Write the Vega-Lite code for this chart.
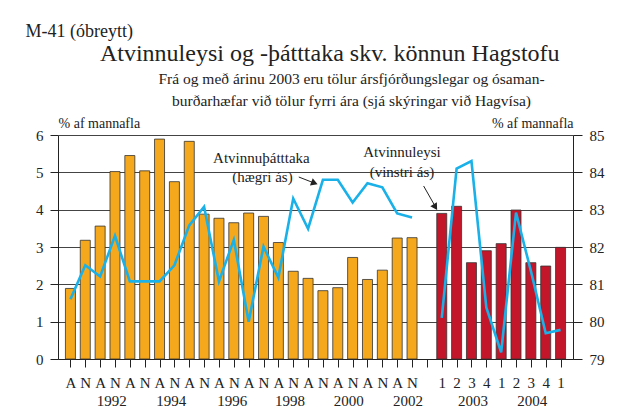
{
  "$schema": "https://vega.github.io/schema/vega-lite/v6.json",
  "background": "white",
  "padding": {"left": 25, "top": 22, "right": 5, "bottom": 5},
  "config": {
    "font": "Liberation Serif",
    "view": {"stroke": null},
    "axis": {"labelFont": "Liberation Serif", "titleFont": "Liberation Serif", "labelColor": "#222", "titleColor": "#222", "domainColor": "#222", "tickColor": "#222", "labelFontSize": 15, "titleFontSize": 14, "titleFontWeight": "normal"}
  },
  "title": {"text": "M-41  (óbreytt)", "anchor": "start", "fontSize": 18, "fontWeight": "normal", "color": "#222", "font": "Liberation Serif", "offset": 1, "dx": -10},
  "datasets": {
    "series": [
      {"slot": 0, "period": "ar", "unemp": 1.89, "lfp": 80.6},
      {"slot": 1, "period": "ar", "unemp": 3.18, "lfp": 81.51},
      {"slot": 2, "period": "ar", "unemp": 3.56, "lfp": 81.21},
      {"slot": 3, "period": "ar", "unemp": 5.02, "lfp": 82.3},
      {"slot": 4, "period": "ar", "unemp": 5.45, "lfp": 81.08},
      {"slot": 5, "period": "ar", "unemp": 5.04, "lfp": 81.08},
      {"slot": 6, "period": "ar", "unemp": 5.89, "lfp": 81.08},
      {"slot": 7, "period": "ar", "unemp": 4.75, "lfp": 81.51},
      {"slot": 8, "period": "ar", "unemp": 5.83, "lfp": 82.58},
      {"slot": 9, "period": "ar", "unemp": 3.88, "lfp": 83.08},
      {"slot": 10, "period": "ar", "unemp": 3.77, "lfp": 81.08},
      {"slot": 11, "period": "ar", "unemp": 3.65, "lfp": 82.19},
      {"slot": 12, "period": "ar", "unemp": 3.91, "lfp": 80.0},
      {"slot": 13, "period": "ar", "unemp": 3.82, "lfp": 82.01},
      {"slot": 14, "period": "ar", "unemp": 3.12, "lfp": 81.18},
      {"slot": 15, "period": "ar", "unemp": 2.35, "lfp": 83.3},
      {"slot": 16, "period": "ar", "unemp": 2.16, "lfp": 82.49},
      {"slot": 17, "period": "ar", "unemp": 1.83, "lfp": 83.8},
      {"slot": 18, "period": "ar", "unemp": 1.91, "lfp": 83.8},
      {"slot": 19, "period": "ar", "unemp": 2.72, "lfp": 83.19},
      {"slot": 20, "period": "ar", "unemp": 2.13, "lfp": 83.71},
      {"slot": 21, "period": "ar", "unemp": 2.38, "lfp": 83.6},
      {"slot": 22, "period": "ar", "unemp": 3.24, "lfp": 82.9},
      {"slot": 23, "period": "ar", "unemp": 3.25, "lfp": 82.79},
      {"slot": 25, "period": "fj", "unemp": 3.9, "lfp": 80.1},
      {"slot": 26, "period": "fj", "unemp": 4.09, "lfp": 84.1},
      {"slot": 27, "period": "fj", "unemp": 2.58, "lfp": 84.3},
      {"slot": 28, "period": "fj", "unemp": 2.9, "lfp": 80.38},
      {"slot": 29, "period": "fj", "unemp": 3.09, "lfp": 79.18},
      {"slot": 30, "period": "fj", "unemp": 3.99, "lfp": 82.92},
      {"slot": 31, "period": "fj", "unemp": 2.58, "lfp": 81.36},
      {"slot": 32, "period": "fj", "unemp": 2.49, "lfp": 79.69},
      {"slot": 33, "period": "fj", "unemp": 2.99, "lfp": 79.78}
    ],
    "years": [
      {"pos": 2.79, "year": "1992"},
      {"pos": 6.78, "year": "1994"},
      {"pos": 10.9, "year": "1996"},
      {"pos": 14.79, "year": "1998"},
      {"pos": 18.74, "year": "2000"},
      {"pos": 22.73, "year": "2002"},
      {"pos": 27.1, "year": "2003"},
      {"pos": 31.1, "year": "2004"}
    ],
    "notes": [
      {"x": 12.86, "y": 5.385, "text": "Atvinnuþátttaka"},
      {"x": 12.93, "y": 4.875, "text": "(hægri ás)"},
      {"x": 22.32, "y": 5.545, "text": "Atvinnuleysi"},
      {"x": 22.32, "y": 5.01, "text": "(vinstri ás)"}
    ],
    "arrows": [
      {"x": 15.375, "y": 4.875, "x2": 16.5, "y2": 4.7, "tx": 16.43, "ty": 4.715, "angle": 21},
      {"x": 23.78, "y": 4.634, "x2": 24.6, "y2": 4.06, "tx": 24.57, "ty": 4.07, "angle": 58}
    ]
  },
  "vconcat": [
    {
      "title": {
        "text": "Atvinnuleysi og -þátttaka skv. könnun Hagstofu",
        "anchor": "middle", "dx": 10, "fontSize": 24, "fontWeight": "normal", "color": "#222", "font": "Liberation Serif", "offset": 6
      },
      "vconcat": [
        {
          "width": 515,
          "height": 224,
          "title": {
            "text": ["Frá og með árinu 2003 eru tölur ársfjórðungslegar og ósaman-", "burðarhæfar við tölur fyrri ára (sjá skýringar við Hagvísa)"],
            "anchor": "middle", "dx": 36, "fontSize": 15.5, "lineHeight": 22, "fontWeight": "normal", "color": "#222", "font": "Liberation Serif", "offset": 7
          },
          "resolve": {"scale": {"y": "independent"}},
          "layer": [
            {
              "layer": [
                {
                  "data": {"name": "series"},
                  "mark": {"type": "bar", "size": 10, "stroke": "#333", "strokeWidth": 0.8},
                  "encoding": {
                    "x": {
                      "field": "slot", "type": "quantitative",
                      "scale": {"domain": [-0.5, 33.5], "nice": false, "zero": false},
                      "axis": {"title": null, "grid": false, "values": [0,1,2,3,4,5,6,7,8,9,10,11,12,13,14,15,16,17,18,19,20,21,22,23,24,25,26,27,28,29,30,31,32,33], "labelExpr": "datum.value < 24 ? (datum.value % 2 == 0 ? 'A' : 'N') : (datum.value == 24 ? '' : toString((datum.value - 25) % 4 + 1))", "tickSize": 8, "labelPadding": 8, "labelFontSize": 15, "labelFlush": false, "labelOverlap": false}
                    },
                    "y": {
                      "field": "unemp", "type": "quantitative",
                      "scale": {"domain": [0, 6], "nice": false},
                      "axis": {"title": "% af mannafla", "titleAngle": 0, "titleX": 0, "titleY": -8, "titleAlign": "left", "titleBaseline": "alphabetic", "values": [0,1,2,3,4,5,6], "grid": true, "gridColor": "#444", "gridWidth": 1, "gridOpacity": 1, "tickSize": 8, "labelPadding": 7, "labelFontSize": 15, "labelOverlap": false}
                    },
                    "color": {"field": "period", "type": "nominal", "scale": {"domain": ["ar", "fj"], "range": ["#F6A81C", "#C3162A"]}, "legend": null}
                  }
                },
                {
                  "data": {"name": "years"},
                  "mark": {"type": "text", "fontSize": 15, "baseline": "middle", "align": "center", "color": "#222", "clip": false},
                  "encoding": {
                    "x": {
                      "field": "pos", "type": "quantitative",
                      "scale": {"domain": [-0.5, 33.5], "nice": false, "zero": false},
                      "axis": {"title": null, "grid": false, "values": [0,1,2,3,4,5,6,7,8,9,10,11,12,13,14,15,16,17,18,19,20,21,22,23,24,25,26,27,28,29,30,31,32,33], "labelExpr": "datum.value < 24 ? (datum.value % 2 == 0 ? 'A' : 'N') : (datum.value == 24 ? '' : toString((datum.value - 25) % 4 + 1))", "tickSize": 8, "labelPadding": 8, "labelFontSize": 15, "labelFlush": false, "labelOverlap": false}
                    },
                    "y": {
                      "datum": -1.13, "type": "quantitative",
                      "scale": {"domain": [0, 6], "nice": false},
                      "axis": {"title": "% af mannafla", "titleAngle": 0, "titleX": 0, "titleY": -8, "titleAlign": "left", "titleBaseline": "alphabetic", "values": [0,1,2,3,4,5,6], "grid": true, "gridColor": "#444", "gridWidth": 1, "gridOpacity": 1, "tickSize": 8, "labelPadding": 7, "labelFontSize": 15, "labelOverlap": false}
                    },
                    "text": {"field": "year"}
                  }
                },
                {
                  "data": {"name": "notes"},
                  "mark": {"type": "text", "fontSize": 15, "baseline": "middle", "align": "center", "color": "#222"},
                  "encoding": {
                    "x": {
                      "field": "x", "type": "quantitative",
                      "scale": {"domain": [-0.5, 33.5], "nice": false, "zero": false},
                      "axis": {"title": null, "grid": false, "values": [0,1,2,3,4,5,6,7,8,9,10,11,12,13,14,15,16,17,18,19,20,21,22,23,24,25,26,27,28,29,30,31,32,33], "labelExpr": "datum.value < 24 ? (datum.value % 2 == 0 ? 'A' : 'N') : (datum.value == 24 ? '' : toString((datum.value - 25) % 4 + 1))", "tickSize": 8, "labelPadding": 8, "labelFontSize": 15, "labelFlush": false, "labelOverlap": false}
                    },
                    "y": {
                      "field": "y", "type": "quantitative",
                      "scale": {"domain": [0, 6], "nice": false},
                      "axis": {"title": "% af mannafla", "titleAngle": 0, "titleX": 0, "titleY": -8, "titleAlign": "left", "titleBaseline": "alphabetic", "values": [0,1,2,3,4,5,6], "grid": true, "gridColor": "#444", "gridWidth": 1, "gridOpacity": 1, "tickSize": 8, "labelPadding": 7, "labelFontSize": 15, "labelOverlap": false}
                    },
                    "text": {"field": "text"}
                  }
                },
                {
                  "data": {"name": "arrows"},
                  "mark": {"type": "rule", "color": "#222", "strokeWidth": 1},
                  "encoding": {
                    "x": {
                      "field": "x", "type": "quantitative",
                      "scale": {"domain": [-0.5, 33.5], "nice": false, "zero": false},
                      "axis": {"title": null, "grid": false, "values": [0,1,2,3,4,5,6,7,8,9,10,11,12,13,14,15,16,17,18,19,20,21,22,23,24,25,26,27,28,29,30,31,32,33], "labelExpr": "datum.value < 24 ? (datum.value % 2 == 0 ? 'A' : 'N') : (datum.value == 24 ? '' : toString((datum.value - 25) % 4 + 1))", "tickSize": 8, "labelPadding": 8, "labelFontSize": 15, "labelFlush": false, "labelOverlap": false}
                    },
                    "y": {
                      "field": "y", "type": "quantitative",
                      "scale": {"domain": [0, 6], "nice": false},
                      "axis": {"title": "% af mannafla", "titleAngle": 0, "titleX": 0, "titleY": -8, "titleAlign": "left", "titleBaseline": "alphabetic", "values": [0,1,2,3,4,5,6], "grid": true, "gridColor": "#444", "gridWidth": 1, "gridOpacity": 1, "tickSize": 8, "labelPadding": 7, "labelFontSize": 15, "labelOverlap": false}
                    },
                    "x2": {"field": "x2"},
                    "y2": {"field": "y2"}
                  }
                },
                {
                  "data": {"name": "arrows"},
                  "mark": {"type": "point", "shape": "triangle-right", "filled": true, "color": "#222", "size": 60, "opacity": 1},
                  "encoding": {
                    "x": {
                      "field": "tx", "type": "quantitative",
                      "scale": {"domain": [-0.5, 33.5], "nice": false, "zero": false},
                      "axis": {"title": null, "grid": false, "values": [0,1,2,3,4,5,6,7,8,9,10,11,12,13,14,15,16,17,18,19,20,21,22,23,24,25,26,27,28,29,30,31,32,33], "labelExpr": "datum.value < 24 ? (datum.value % 2 == 0 ? 'A' : 'N') : (datum.value == 24 ? '' : toString((datum.value - 25) % 4 + 1))", "tickSize": 8, "labelPadding": 8, "labelFontSize": 15, "labelFlush": false, "labelOverlap": false}
                    },
                    "y": {
                      "field": "ty", "type": "quantitative",
                      "scale": {"domain": [0, 6], "nice": false},
                      "axis": {"title": "% af mannafla", "titleAngle": 0, "titleX": 0, "titleY": -8, "titleAlign": "left", "titleBaseline": "alphabetic", "values": [0,1,2,3,4,5,6], "grid": true, "gridColor": "#444", "gridWidth": 1, "gridOpacity": 1, "tickSize": 8, "labelPadding": 7, "labelFontSize": 15, "labelOverlap": false}
                    },
                    "angle": {"field": "angle", "type": "quantitative", "scale": null}
                  }
                }
              ]
            },
            {
              "data": {"name": "series"},
              "mark": {"type": "line", "color": "#1AB0E8", "strokeWidth": 2.6},
              "encoding": {
                "x": {
                  "field": "slot", "type": "quantitative",
                  "scale": {"domain": [-0.5, 33.5], "nice": false, "zero": false},
                  "axis": {"title": null, "grid": false, "values": [0,1,2,3,4,5,6,7,8,9,10,11,12,13,14,15,16,17,18,19,20,21,22,23,24,25,26,27,28,29,30,31,32,33], "labelExpr": "datum.value < 24 ? (datum.value % 2 == 0 ? 'A' : 'N') : (datum.value == 24 ? '' : toString((datum.value - 25) % 4 + 1))", "tickSize": 8, "labelPadding": 8, "labelFontSize": 15, "labelFlush": false, "labelOverlap": false}
                },
                "y": {
                  "field": "lfp", "type": "quantitative",
                  "scale": {"domain": [79, 85], "nice": false, "zero": false},
                  "axis": {"orient": "right", "title": "% af mannafla", "titleAngle": 0, "titleX": 0, "titleY": -8, "titleAlign": "right", "titleBaseline": "alphabetic", "values": [79,80,81,82,83,84,85], "grid": false, "tickSize": 9, "labelPadding": 7, "labelFontSize": 15, "labelOverlap": false}
                },
                "detail": {"field": "period"}
              }
            }
          ]
        }
      ]
    }
  ]
}
